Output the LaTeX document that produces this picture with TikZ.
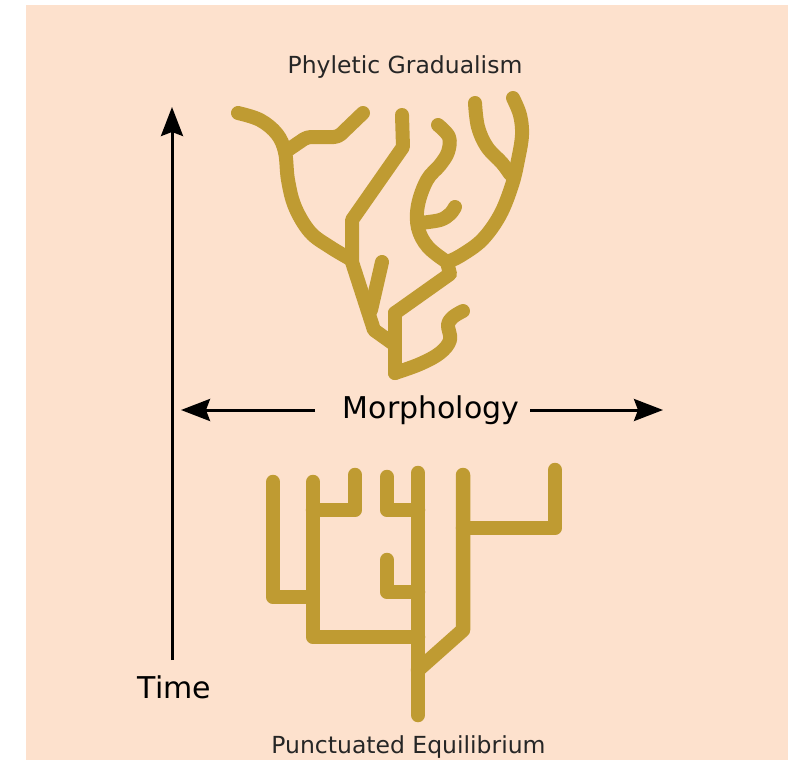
\documentclass[tikz,border=0pt]{standalone}
\usepackage{fontspec}
\setmainfont{DejaVu Sans}
\usepackage{tikz}
\usepackage{xcolor}
\usetikzlibrary{
  positioning, arrows.meta, calc,
}
\definecolor{bgPeach}  {HTML}{FDE1CD}
\definecolor{treeGold} {HTML}{BF9B32}
\definecolor{axisInk}  {HTML}{000000}

\begin{document}
\begin{tikzpicture}[x=1pt, y=-1pt,
    branch/.style={draw=treeGold, line width=14pt, line cap=round, line join=round},
    stepbranch/.style={draw=treeGold, line width=14.5pt, line cap=round, line join=round},
    axis/.style={draw=axisInk, line width=3pt},
    axistip/.style={-{Stealth[length=29pt, width=22pt, inset=4pt]}},
    smalllbl/.style={font=\fontsize{23.5}{27}\selectfont, text=axisInk!85, anchor=base, inner sep=0pt},
    biglbl/.style={font=\fontsize{30}{34}\selectfont, text=axisInk, anchor=base, inner sep=0pt}]
  \useasboundingbox (0,0) rectangle (788,760);
  \fill[bgPeach] (26,5) rectangle (788,760);

  \node[smalllbl] (phyl) at (405,74) {Phyletic Gradualism};
  \node[smalllbl] (punc) at (408.5,753) {Punctuated Equilibrium};
  \node[biglbl] (morph) at (431,418) {Morphology};
  \node[biglbl] (time) at (174.5,698) {Time};

  \coordinate (timeFoot) at (172,660);
  \coordinate (timeTip)  at (172,107);
  \coordinate (morphL)   at (315,410);
  \coordinate (morphLtip) at (181,410);
  \coordinate (morphR)   at (530,410);
  \coordinate (morphRtip) at (663,410);

  \draw[axis, axistip] (timeFoot) -- (timeTip);
  \draw[axis, axistip] (morphL) -- (morphLtip);
  \draw[axis, axistip] (morphR) -- (morphRtip);

  % gradual tree
  \draw[branch] plot[smooth, tension=0.6] coordinates {(238,113) (260,120) (277,134) (285,152)
    (288,180) (295,207) (310,232) (330,247) (352,260)};
  \draw[branch, rounded corners=4pt] (285,152) -- (307,137) -- (338,137) -- (363,113);
  \draw[branch] (402,115) -- (403,147) -- (352,220) -- (352,262) -- (374,330) -- (395,345);
  \draw[branch] (382,262) -- (371,310);
  \draw[branch] (395,313) -- (395,373);
  \draw[branch] plot[smooth, tension=0.6] coordinates {(395,373) (420,364) (440,353) (450,340)
    (448,325) (453,317) (463,311)};
  \draw[branch] plot[smooth, tension=0.6] coordinates {(513,98) (520,115) (522,135) (518,160)
    (512,185) (500,215) (482,240) (460,256) (447,262)};
  \draw[branch] plot[smooth, tension=0.6] coordinates {(475,103) (478,127) (487,147) (502,163) (510,174)};
  \draw[branch] plot[smooth, tension=0.6] coordinates {(438,125) (449,137) (448,152) (440,165)
    (427,180) (418,205) (418,228) (428,247) (447,262)};
  \draw[branch] (447,262) -- (450,274) -- (395,313);
  \draw[branch] plot[smooth, tension=0.6] coordinates {(420,223) (440,220) (450,214) (455,207)};

  % punctuated tree
  \draw[stepbranch] (273,482) -- (273,597) -- (312,597);
  \draw[stepbranch] (313,482) -- (313,637) -- (418,637);
  \draw[stepbranch] (313,510) -- (355,510) -- (355,475);
  \draw[stepbranch] (387,477) -- (387,510) -- (418,510);
  \draw[stepbranch] (387,560) -- (387,592) -- (418,592);
  \draw[stepbranch] (418,473) -- (418,715);
  \draw[stepbranch] (418,670) -- (463,630) -- (463,475);
  \draw[stepbranch] (463,528) -- (555,528) -- (555,470);
\end{tikzpicture}
\end{document}
